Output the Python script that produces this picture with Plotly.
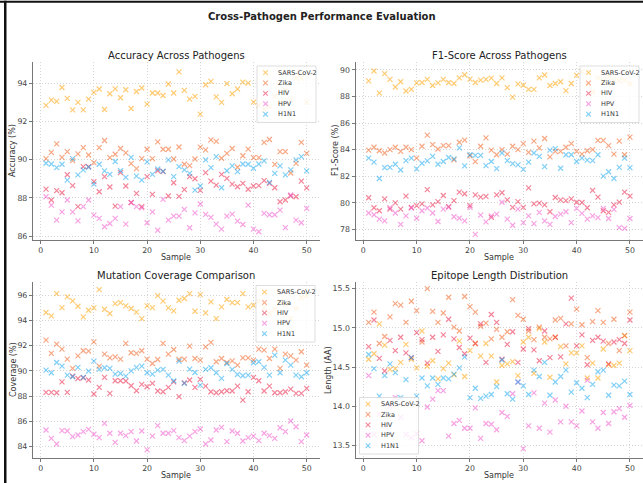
import plotly.graph_objects as go

W, H = 643, 483

samples = list(range(1, 51))
pathogens = ["SARS-CoV-2", "Zika", "HIV", "HPV", "H1N1"]

acc_sars = [92.83, 93.11, 93.04, 93.77, 93.2, 92.6, 92.99, 92.6, 93.16, 93.51,
            93.69, 92.62, 93.44, 93.7, 93.23, 93.65, 92.67, 93.56, 93.74, 92.9,
            93.48, 93.48, 93.35, 93.95, 93.48, 94.58, 93.62, 93.16, 93.3, 92.38,
            93.91, 94.09, 93.28, 92.99, 93.97, 93.44, 93.69, 94.05, 94.0, 93.0,
            92.83, 92.6, 92.78, 93.3, 93.0, 93.6, 93.15, 94.26, 94.26, 93.0]
acc_zika = [90.05, 90.38, 90.82, 90.12, 90.42, 89.95, 90.3, 90.63, 90.24, 89.84,
            90.63, 91.0, 90.1, 90.28, 90.58, 90.35, 89.79, 89.53, 90.05, 90.54,
            90.05, 90.93, 90.54, 90.54, 90.03, 90.66, 89.76, 89.69, 90.03, 90.65,
            90.51, 91.03, 90.95, 90.07, 90.33, 90.58, 89.6, 90.2, 90.55, 90.1,
            90.1, 90.9, 91.05, 89.75, 90.42, 90.42, 89.3, 89.8, 90.9, 90.33]
acc_hiv = [88.46, 87.89, 88.38, 88.27, 89.21, 88.64, 87.54, 89.63, 89.63, 88.85,
           88.32, 89.11, 88.57, 87.57, 89.32, 88.62, 87.76, 88.24, 87.54, 89.11,
           88.18, 89.42, 89.37, 88.1, 88.79, 88.08, 88.43, 89.11, 89.0, 88.39,
           89.32, 88.88, 88.67, 89.23, 89.02, 88.72, 88.58, 88.76, 88.45, 88.62,
           88.64, 88.9, 88.76, 88.53, 87.8, 87.89, 88.1, 88.06, 88.88, 88.52]
acc_hpv = [88.06, 87.62, 86.84, 87.27, 87.89, 87.27, 86.8, 87.54, 87.89, 87.1,
           86.93, 86.49, 86.66, 86.93, 87.54, 86.63, 87.75, 87.54, 87.48, 86.7,
           87.27, 86.31, 87.92, 86.84, 87.05, 87.05, 87.4, 86.44, 87.22, 87.68,
           87.14, 86.98, 86.63, 86.37, 87.05, 87.15, 86.79, 86.61, 87.62, 86.37,
           86.23, 87.19, 87.12, 87.12, 87.36, 86.45, 88.15, 86.84, 86.7, 87.45]
acc_h1n1 = [89.81, 89.77, 89.58, 89.76, 88.93, 90.05, 89.2, 89.46, 89.6, 88.72,
            89.76, 89.41, 89.23, 89.9, 89.42, 89.07, 90.12, 89.14, 88.93, 89.88,
            89.23, 89.51, 89.39, 89.99, 89.11, 89.63, 89.46, 89.28, 88.41, 88.62,
            89.99, 89.58, 90.16, 88.53, 89.42, 89.67, 89.37, 89.77, 89.76, 89.55,
            89.77, 89.93, 88.81, 89.28, 89.67, 89.2, 89.46, 89.99, 90.16, 89.41]

f1_sars = [89.18, 89.92, 88.26, 89.72, 89.29, 88.72, 89.11, 88.42, 88.54, 89.03,
           89.06, 89.29, 88.83, 89.03, 89.29, 89.06, 88.98, 89.41, 89.64, 89.31,
           89.06, 89.23, 89.29, 89.39, 88.98, 89.41, 88.67, 87.96, 88.95, 88.85,
           88.54, 88.54, 89.41, 89.62, 88.83, 88.98, 89.11, 88.44, 88.98, 89.59,
           89.87, 88.9, 88.34, 89.4, 89.2, 89.5, 89.18, 89.18, 89.23, 88.98]
f1_zika = [83.97, 84.18, 83.92, 83.75, 84.0, 84.18, 83.87, 84.18, 84.0, 83.36,
           84.26, 85.1, 84.38, 84.05, 84.31, 84.31, 83.23, 84.56, 84.72, 83.54,
           83.1, 84.26, 84.89, 83.97, 83.62, 84.0, 83.67, 84.26, 84.0, 84.46,
           83.8, 84.64, 84.13, 84.84, 83.46, 83.87, 83.87, 84.18, 84.46, 83.87,
           83.67, 83.92, 84.0, 84.7, 84.7, 84.3, 83.67, 84.64, 83.62, 84.95]
f1_hiv = [80.38, 79.63, 79.4, 80.3, 79.53, 79.99, 79.53, 80.5, 79.66, 79.79,
          79.92, 80.99, 79.84, 80.09, 80.55, 79.71, 80.17, 80.81, 80.68, 79.79,
          80.6, 80.43, 80.48, 78.9, 80.6, 80.76, 80.22, 79.66, 80.09, 79.66,
          81.12, 79.92, 79.97, 79.84, 79.33, 80.4, 80.22, 80.17, 80.3, 80.04,
          80.02, 79.63, 80.94, 80.43, 79.4, 79.28, 79.84, 80.05, 80.81, 80.5]
f1_hpv = [79.23, 79.1, 78.77, 78.64, 79.63, 79.23, 78.38, 79.02, 79.61, 78.84,
          79.4, 79.61, 79.23, 78.59, 79.53, 79.66, 78.95, 78.84, 78.64, 79.66,
          77.62, 79.07, 78.56, 79.02, 79.15, 80.04, 78.77, 78.31, 79.53, 78.51,
          79.02, 78.43, 79.28, 78.64, 78.38, 78.97, 79.15, 79.33, 78.51, 79.58,
          79.2, 78.77, 79.02, 78.89, 79.58, 78.82, 79.5, 78.13, 78.07, 78.82]
f1_h1n1 = [83.36, 83.06, 81.83, 82.65, 82.67, 82.9, 82.47, 83.18, 83.36, 82.55,
           82.98, 83.16, 83.49, 82.9, 83.11, 83.41, 83.31, 84.13, 82.78, 83.62,
           83.57, 83.57, 82.8, 83.11, 82.57, 83.75, 83.18, 82.95, 82.85, 82.52,
           83.06, 83.75, 83.49, 82.72, 83.97, 84.08, 82.6, 83.62, 83.62, 83.11,
           83.36, 83.21, 83.18, 83.62, 82.01, 82.34, 81.83, 82.67, 83.36, 82.65]

cov_sars = [94.63, 94.36, 96.13, 95.02, 95.87, 95.55, 95.13, 94.29, 94.81, 95.0,
            96.45, 94.89, 94.55, 95.34, 95.42, 95.16, 94.95, 94.66, 94.15, 95.16,
            95.02, 95.97, 95.53, 95.0, 94.76, 95.6, 95.74, 96.13, 94.73, 96.05,
            94.6, 95.47, 94.15, 95.08, 95.66, 95.42, 95.42, 96.13, 95.08, 95.21,
            95.53, 95.0, 94.55, 94.9, 95.5, 95.3, 94.15, 94.95, 95.8, 96.0]
cov_zika = [92.44, 91.39, 92.12, 91.73, 90.94, 90.2, 91.2, 91.6, 91.57, 92.31,
            90.38, 91.33, 91.04, 91.12, 90.94, 92.18, 91.44, 91.39, 91.6, 90.94,
            90.59, 90.91, 92.18, 91.33, 91.7, 90.91, 90.94, 91.97, 90.99, 90.86,
            91.91, 92.26, 90.73, 90.99, 90.67, 90.8, 90.46, 91.04, 91.04, 90.86,
            91.73, 91.65, 90.99, 91.73, 90.2, 91.33, 91.2, 90.86, 91.52, 90.46]
cov_hiv = [88.3, 88.3, 88.27, 89.14, 88.3, 89.59, 89.4, 89.46, 89.28, 88.17,
           88.7, 89.49, 88.22, 89.22, 89.22, 89.2, 88.83, 88.43, 88.93, 88.75,
           89.01, 88.41, 88.35, 88.7, 89.14, 87.96, 89.06, 89.28, 88.7, 89.33,
           88.8, 88.35, 88.27, 88.35, 88.43, 88.41, 88.8, 87.69, 88.35, 89.49,
           89.22, 88.41, 88.8, 88.27, 88.27, 88.35, 88.56, 88.22, 88.22, 88.62]
cov_hpv = [85.32, 84.66, 84.21, 85.27, 85.24, 84.79, 84.92, 85.19, 85.37, 84.98,
           84.71, 85.85, 85.06, 84.34, 85.06, 84.87, 85.19, 84.45, 85.24, 83.74,
           84.84, 85.66, 85.06, 85.06, 85.27, 84.71, 84.48, 84.84, 85.19, 85.4,
           84.21, 84.53, 85.32, 85.53, 84.4, 85.24, 85.06, 84.45, 84.71, 84.84,
           84.48, 85.06, 84.87, 84.66, 85.5, 85.19, 86.03, 85.58, 84.4, 84.92]
cov_h1n1 = [90.07, 89.86, 90.67, 90.38, 89.67, 89.54, 90.28, 89.49, 89.99, 90.78,
            90.12, 90.25, 90.2, 89.75, 89.8, 89.59, 90.01, 90.28, 90.38, 89.86,
            89.75, 90.07, 90.12, 89.67, 89.22, 90.78, 89.01, 90.15, 89.88, 88.88,
            90.12, 90.25, 89.86, 89.41, 90.59, 90.12, 89.72, 89.62, 89.67, 90.65,
            90.73, 90.28, 89.67, 91.25, 89.86, 90.86, 90.46, 89.67, 89.54, 89.86]

len_sars = [14.6, 14.67, 15.05, 14.78, 14.47, 14.48, 14.56, 14.79, 14.6, 14.49,
            14.96, 14.51, 14.58, 14.35, 14.48, 14.55, 14.4, 14.83, 14.38, 14.71,
            14.8, 14.64, 14.8, 14.64, 14.31, 14.52, 14.54, 14.57, 14.39, 14.82,
            14.88, 14.42, 14.99, 14.82, 14.37, 14.88, 14.76, 14.54, 14.68, 14.68,
            14.77, 14.36, 14.55, 14.36, 14.73, 14.53, 14.52, 14.55, 14.9, 14.71]
len_zika = [15.07, 15.2, 14.8, 14.89, 15.14, 15.31, 15.29, 15.07, 15.34, 15.22,
            14.82, 15.5, 15.21, 15.07, 15.19, 15.39, 15.01, 14.96, 15.4, 15.27,
            15.2, 15.02, 15.06, 14.86, 14.98, 14.88, 14.95, 15.36, 15.16, 15.11,
            14.96, 14.85, 15.01, 14.88, 14.86, 15.1, 15.12, 14.77, 15.05, 15.24,
            15.04, 14.62, 15.08, 15.22, 15.07, 14.8, 15.11, 14.71, 14.9, 15.2]
len_hiv = [14.76, 15.1, 14.61, 14.45, 14.84, 14.71, 14.88, 14.68, 14.62, 14.94,
           14.85, 14.55, 14.88, 14.7, 14.91, 15.11, 14.86, 14.75, 14.67, 14.87,
           14.8, 15.05, 14.56, 15.17, 15.07, 14.6, 14.79, 14.95, 14.56, 14.73,
           14.99, 14.72, 14.58, 14.96, 14.62, 14.88, 14.63, 15.05, 15.38, 14.77,
           14.91, 14.53, 14.84, 14.88, 14.83, 14.54, 14.82, 14.85, 14.8, 15.1]
len_hpv = [14.39, 13.64, 13.9, 13.75, 14.0, 14.11, 13.86, 13.64, 13.6, 13.65,
           13.56, 13.99, 14.09, 14.2, 14.2, 13.62, 13.78, 13.82, 13.72, 13.72,
           13.98, 13.59, 13.78, 13.77, 13.7, 13.92, 13.87, 14.16, 14.31, 13.46,
           13.75, 14.17, 13.72, 14.04, 13.67, 14.08, 13.8, 14.0, 13.8, 13.75,
           13.94, 14.33, 13.8, 13.72, 13.92, 13.78, 13.93, 13.97, 13.86, 14.01]
len_h1n1 = [14.66, 14.48, 14.13, 14.39, 14.54, 14.43, 14.11, 14.34, 14.62, 14.13,
            14.36, 14.26, 14.36, 14.28, 14.36, 14.35, 14.41, 14.49, 14.63, 14.11,
            14.23, 14.1, 14.13, 14.15, 14.25, 14.59, 14.16, 14.09, 14.31, 14.26,
            14.15, 14.46, 14.38, 14.56, 14.14, 14.31, 14.38, 14.46, 14.18, 14.3,
            14.23, 14.11, 14.28, 14.44, 14.46, 14.14, 14.27, 14.26, 14.32, 14.15]

x_ticks = [0, 10, 20, 30, 40, 50]
acc_ticks = [86, 88, 90, 92, 94]
f1_ticks = [78, 80, 82, 84, 86, 88, 90]
cov_ticks = [84, 86, 88, 90, 92, 94, 96]
len_ticks = [13.5, 14.0, 14.5, 15.0, 15.5]

colors = ["rgba(255,160,0,0.55)", "rgba(240,95,30,0.55)", "rgba(232,20,60,0.52)",
          "rgba(240,70,200,0.5)", "rgba(0,160,240,0.5)"]

FONT = "DejaVu Sans"


def px(x):
    return x / W


def py(y):
    return 1 - y / H


panels = [
    dict(title="Accuracy Across Pathogens", ytitle="Accuracy (%)",
         series=[acc_sars, acc_zika, acc_hiv, acc_hpv, acc_h1n1],
         yrange=[85.8, 95.1], yticks=acc_ticks, fmt="d",
         box=(33, 319.7, 62, 240), ytx=13,
         leg=(257, 66)),
    dict(title="F1-Score Across Pathogens", ytitle="F1-Score (%)",
         series=[f1_sars, f1_zika, f1_hiv, f1_hpv, f1_h1n1],
         yrange=[77.2, 90.6], yticks=f1_ticks, fmt="d",
         box=(355.6, 643, 62, 240), ytx=336,
         leg=(580, 66)),
    dict(title="Mutation Coverage Comparison", ytitle="Coverage (%)",
         series=[cov_sars, cov_zika, cov_hiv, cov_hpv, cov_h1n1],
         yrange=[83.1, 97.05], yticks=cov_ticks, fmt="d",
         box=(33, 319.7, 282, 458), ytx=13,
         leg=(256, 285.5)),
    dict(title="Epitope Length Distribution", ytitle="Length (AA)",
         series=[len_sars, len_zika, len_hiv, len_hpv, len_h1n1],
         yrange=[13.34, 15.585], yticks=len_ticks, fmt=".1f",
         box=(355.6, 643, 282, 458), ytx=328,
         leg=(359.5, 397.5)),
]

fig = go.Figure()
layout = dict(width=W, height=H, margin=dict(l=0, r=0, t=0, b=0),
              paper_bgcolor="white", plot_bgcolor="white", showlegend=False,
              font=dict(family=FONT, color="#333"))
annotations = []
shapes = []

for i, p in enumerate(panels):
    n = "" if i == 0 else str(i + 1)
    x0, x1, y0, y1 = p["box"]
    axis_common = dict(showline=True, linecolor="#777", linewidth=1.2, mirror=False,
                       ticks="outside", ticklen=3, tickcolor="#777", tickwidth=0.8,
                       showgrid=True, gridcolor="#d4d4d4", griddash="1px,2px", gridwidth=0.9,
                       zeroline=False, tickfont=dict(size=7.8, color="#444", family=FONT))
    layout["xaxis" + n] = dict(domain=[px(x0), px(x1)], range=[-1.45, 52.45],
                               tickvals=x_ticks, anchor="y" + n, **axis_common)
    layout["yaxis" + n] = dict(domain=[py(y1), py(y0)], range=p["yrange"],
                               tickvals=p["yticks"], tickformat=p["fmt"],
                               anchor="x" + n, **axis_common)
    for name, vals, c in zip(pathogens, p["series"], colors):
        fig.add_trace(go.Scatter(
            x=samples, y=vals, mode="markers", name=name,
            xaxis="x" + n, yaxis="y" + n,
            marker=dict(symbol="x-thin", size=5, color=c, line=dict(color=c, width=1.2)),
        ))
    cx = (x0 + x1) / 2
    annotations.append(dict(text=p["title"], x=px(cx), y=py(y0 - 7), xref="paper", yref="paper",
                            showarrow=False, xanchor="center", yanchor="middle",
                            font=dict(size=10, color="#222", family=FONT)))
    annotations.append(dict(text="Sample", x=px(cx), y=py(y1 + 17), xref="paper", yref="paper",
                            showarrow=False, xanchor="center", yanchor="middle",
                            font=dict(size=8, color="#333", family=FONT)))
    annotations.append(dict(text=p["ytitle"], x=px(p["ytx"]), y=py((y0 + y1) / 2),
                            xref="paper", yref="paper", textangle=-90,
                            showarrow=False, xanchor="center", yanchor="middle",
                            font=dict(size=8, color="#333", family=FONT)))
    lx, ly = p["leg"]
    bw, bh, rh = 59, 56.5, 10.4
    shapes.append(dict(type="rect", xref="paper", yref="paper", layer="above",
                       x0=px(lx), x1=px(lx + bw), y0=py(ly + bh), y1=py(ly),
                       fillcolor="rgba(255,255,255,0.82)",
                       line=dict(color="#d6d6d6", width=0.8)))
    for k, (name, c) in enumerate(zip(pathogens, colors)):
        ry = ly + 6.6 + k * rh
        mx = lx + 8.5
        s = 2.3
        path = "M {a} {b} L {c_} {d} M {a} {d} L {c_} {b}".format(
            a=px(mx - s), b=py(ry - s), c_=px(mx + s), d=py(ry + s))
        shapes.append(dict(type="path", xref="paper", yref="paper", layer="above",
                           path=path, line=dict(color=c, width=1.1)))
        annotations.append(dict(text=name, x=px(lx + 19), y=py(ry), xref="paper", yref="paper",
                                showarrow=False, xanchor="left", yanchor="middle",
                                font=dict(size=6.5, color="#333", family=FONT)))

annotations.append(dict(text="<b>Cross-Pathogen Performance Evaluation</b>",
                        x=px(321.5), y=py(16.5), xref="paper", yref="paper",
                        showarrow=False, xanchor="center", yanchor="middle",
                        font=dict(size=10, color="#222", family=FONT)))

shapes.append(dict(type="rect", xref="paper", yref="paper", layer="above",
                   x0=0, x1=1, y0=py(2.8), y1=py(0.8), fillcolor="#111", line=dict(width=0)))
shapes.append(dict(type="rect", xref="paper", yref="paper", layer="above",
                   x0=px(4), x1=px(6.5), y0=0, y1=py(0.8), fillcolor="#111", line=dict(width=0)))

layout["annotations"] = annotations
layout["shapes"] = shapes
fig.update_layout(**layout)
fig.write_html("out.html")
